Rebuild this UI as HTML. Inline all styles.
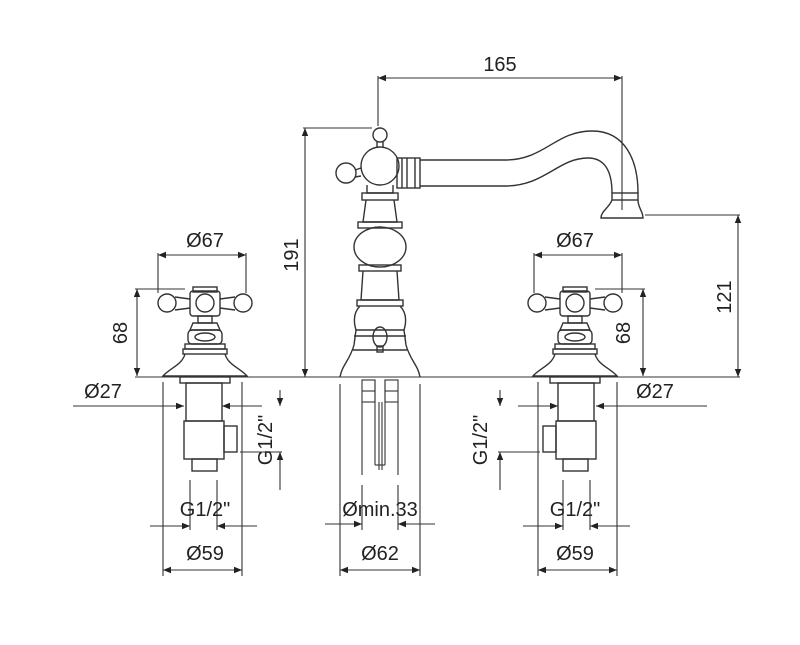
<!DOCTYPE html>
<html><head><meta charset="utf-8"><style>
body{margin:0;background:#fff}
svg{display:block}
text{font-family:"Liberation Sans",sans-serif;font-size:20px;fill:#222}
</style></head><body>
<svg width="800" height="645" viewBox="0 0 800 645" xmlns="http://www.w3.org/2000/svg">
<defs>
<marker id="a" viewBox="0 0 10 10" refX="10" refY="5" markerWidth="14" markerHeight="8" markerUnits="userSpaceOnUse" orient="auto-start-reverse"><path d="M0,1 L10,5 L0,9z" fill="#222"/></marker>
</defs>
<g stroke="#333" stroke-width="1.1" fill="none">
<line x1="160" y1="377" x2="740" y2="377"/>
<line x1="378" y1="78" x2="622" y2="78" marker-start="url(#a)" marker-end="url(#a)"/>
<line x1="378" y1="76" x2="378" y2="126"/>
<line x1="622" y1="76" x2="622" y2="210"/>
<line x1="305" y1="128" x2="305" y2="377" marker-start="url(#a)" marker-end="url(#a)"/>
<line x1="303" y1="128" x2="372" y2="128"/>
<line x1="738" y1="215" x2="738" y2="377" marker-start="url(#a)" marker-end="url(#a)"/>
<line x1="645" y1="215" x2="740" y2="215"/>

<g stroke-width="1.4">
<circle cx="380" cy="135" r="7"/>
<line x1="377" y1="142" x2="377" y2="147"/><line x1="383" y1="142" x2="383" y2="147"/>
<circle cx="380" cy="166" r="19"/>
<circle cx="346" cy="173" r="10"/>
<path d="M355,170 L361,168 M355,177 L361,176"/>
<rect x="397" y="158" width="23" height="30"/>
<line x1="402" y1="158" x2="402" y2="188"/><line x1="407" y1="158" x2="407" y2="188"/><line x1="415" y1="158" x2="415" y2="188"/>
<path d="M420,160 L505,160 C545,160 555,131 592,131 C625,131 638,160 638,193"/>
<path d="M420,186 L505,186 C545,186 558,158 588,158 C607,158 612,175 612,193"/>
<rect x="612" y="193" width="26" height="7"/>
<path d="M612,200 C609,208 601,211 601,218 L643,218 C643,211 638,208 638,200"/>
<path d="M367,185 L367,193 L393,193 L393,185"/>
<rect x="362" y="193" width="36" height="7"/>
<path d="M366,200 L363,222 L397,222 L394,200"/>
<rect x="358" y="222" width="44" height="6"/>
<ellipse cx="380" cy="247" rx="26" ry="20"/>
<rect x="359" y="265" width="42" height="6"/>
<path d="M363,271 L361,300 L399,300 L397,271"/>
<rect x="357" y="300" width="46" height="6"/>
<path d="M360,306 C354,312 353,320 356,330 L404,330 C407,320 406,312 400,306"/>
<line x1="354" y1="336" x2="406" y2="336"/>
<path d="M356,330 L354,345 C350,360 342,365 340,377 M404,330 L406,345 C410,360 418,365 420,377"/>
<line x1="353" y1="350" x2="407" y2="350"/>
<ellipse cx="380" cy="337" rx="7" ry="10"/>
<rect x="377" y="346" width="6" height="6"/>
</g>
<rect x="362" y="380" width="13" height="22"/><rect x="385" y="380" width="13" height="22"/>
<line x1="362" y1="391" x2="375" y2="391"/><line x1="385" y1="391" x2="398" y2="391"/>
<line x1="375" y1="380" x2="375" y2="465"/><line x1="385" y1="380" x2="385" y2="465"/><line x1="375" y1="465" x2="385" y2="465"/>
<line x1="379" y1="402" x2="379" y2="470"/><line x1="382" y1="402" x2="382" y2="470"/>
<line x1="362" y1="402" x2="362" y2="475"/><line x1="398" y1="402" x2="398" y2="475"/>
<line x1="362" y1="485" x2="362" y2="530"/><line x1="398" y1="485" x2="398" y2="530"/>
<line x1="340" y1="384" x2="340" y2="576"/><line x1="420" y1="384" x2="420" y2="576"/>
<line x1="325" y1="524" x2="362" y2="524" marker-end="url(#a)"/>
<line x1="435" y1="524" x2="398" y2="524" marker-end="url(#a)"/>
<line x1="340" y1="570" x2="420" y2="570" marker-start="url(#a)" marker-end="url(#a)"/>

<g id="v">
<g stroke-width="1.4">
<rect x="193" y="287" width="24" height="5"/>
<rect x="190" y="291" width="30" height="25" rx="3"/>
<circle cx="205" cy="303" r="9"/>
<path d="M190,299 L175,297 M190,308 L175,310 M220,299 L235,297 M220,308 L235,310"/>
<circle cx="167" cy="303" r="9"/><circle cx="243" cy="303" r="9"/>
<rect x="198" y="316" width="14" height="7"/>
<path d="M193,323 L217,323 L220,330 L190,330z"/>
<rect x="188" y="330" width="34" height="14" rx="4"/>
<ellipse cx="205" cy="337" rx="10" ry="4"/>
<rect x="185" y="344" width="40" height="5"/>
<rect x="183" y="349" width="44" height="5"/>
<path d="M185,354 C182,365 170,368 163,376 L247,376 C240,368 228,365 225,354"/>
<rect x="180" y="377" width="50" height="6"/>
<rect x="186" y="383" width="36" height="38"/>
<rect x="184" y="421" width="40" height="38"/>
<rect x="224" y="426" width="13" height="26"/>
<rect x="192" y="459" width="25" height="12"/>
</g>
<line x1="158" y1="255" x2="246" y2="255" marker-start="url(#a)" marker-end="url(#a)"/>
<line x1="158" y1="253" x2="158" y2="293"/><line x1="246" y1="253" x2="246" y2="293"/>
<line x1="137" y1="289" x2="137" y2="376" marker-start="url(#a)" marker-end="url(#a)"/>
<line x1="135" y1="289" x2="185" y2="289"/>
<line x1="135" y1="377" x2="160" y2="377"/>
<line x1="163" y1="382" x2="163" y2="576"/><line x1="242" y1="382" x2="242" y2="576"/>
<line x1="73" y1="406" x2="184" y2="406" marker-end="url(#a)"/>
<line x1="262" y1="406" x2="222" y2="406" marker-end="url(#a)"/>
<line x1="240" y1="406" x2="262" y2="406"/>
<line x1="280" y1="390" x2="280" y2="406" marker-end="url(#a)"/>
<line x1="280" y1="490" x2="280" y2="452" marker-end="url(#a)"/>
<line x1="240" y1="452" x2="282" y2="452"/>
<line x1="190" y1="480" x2="190" y2="530"/><line x1="217" y1="480" x2="217" y2="530"/>
<line x1="150" y1="526" x2="190" y2="526" marker-end="url(#a)"/>
<line x1="257" y1="526" x2="217" y2="526" marker-end="url(#a)"/>
<line x1="163" y1="570" x2="242" y2="570" marker-start="url(#a)" marker-end="url(#a)"/>
</g>
<use href="#v" transform="translate(780,0) scale(-1,1)"/>
</g>

<g>
<text x="500" y="71" text-anchor="middle">165</text>
<text transform="translate(298,255) rotate(-90)" text-anchor="middle">191</text>
<text transform="translate(731,297) rotate(-90)" text-anchor="middle">121</text>
<text x="205" y="247" text-anchor="middle">Ø67</text>
<text x="575" y="247" text-anchor="middle">Ø67</text>
<text transform="translate(127,333) rotate(-90)" text-anchor="middle">68</text>
<text transform="translate(630,333) rotate(-90)" text-anchor="middle">68</text>
<text x="103" y="398" text-anchor="middle">Ø27</text>
<text x="655" y="398" text-anchor="middle">Ø27</text>
<text transform="translate(272,440) rotate(-90)" text-anchor="middle">G1/2"</text>
<text transform="translate(487,440) rotate(-90)" text-anchor="middle">G1/2"</text>
<text x="205" y="516" text-anchor="middle">G1/2"</text>
<text x="575" y="516" text-anchor="middle">G1/2"</text>
<text x="380" y="516" text-anchor="middle">Ømin.33</text>
<text x="205" y="560" text-anchor="middle">Ø59</text>
<text x="575" y="560" text-anchor="middle">Ø59</text>
<text x="380" y="560" text-anchor="middle">Ø62</text>
</g>
</svg>
</body></html>
